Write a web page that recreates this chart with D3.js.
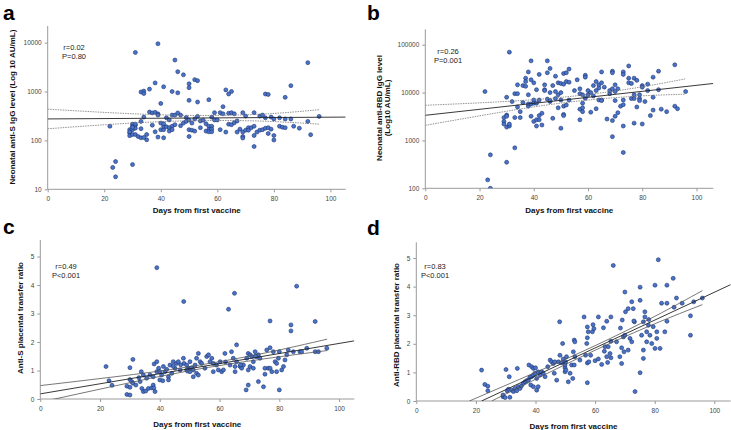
<!DOCTYPE html>
<html>
<head>
<meta charset="utf-8">
<script src="https://cdn.jsdelivr.net/npm/d3@7"></script>
<style>
  body { margin: 0; background: #fff; }
  svg { display: block; font-family: "Liberation Sans", Arial, sans-serif; }
  .axis path, .axis line { stroke: #9a9a9a; stroke-width: 1; }
  .axis text { fill: #444; font-size: 6.5px; }
  .ttl { font-weight: bold; font-size: 8px; fill: #111; }
  .lett { font-weight: bold; font-size: 21px; fill: #000; }
  .ann { font-size: 7.5px; fill: #222; }
  .dot { fill: #4a74c9; stroke: #1c3370; stroke-width: 0.6; }
</style>
</head>
<body onload="init()">
<svg width="731" height="430"></svg>
<script>
// ticks
var dayTicks = [0, 20, 40, 60, 80, 100];
var logTicksA = [10, 100, 1000, 10000];
var logTicksB = [100, 1000, 10000, 100000];
var ratioTicks = [0, 1, 2, 3, 4, 5];

// panel a: neonatal anti-S IgG (day, AU/mL)
var ptsA = [[39,9500],[31,6300],[45,4400],[46,2550],[48,2200],[52,1750],[53,1670],[50,1440],[50,1200],[38,1500],
  [41,1250],[36,1120],[33,980],[34,1020],[34,910],[44,1000],[46,940],[50,660],[53,610],[40,570],[57,680],[22,195],
  [24,37],[23,28],[24,18],[30,32],[36,380],[37,365],[38,375],[39,350],[34,300],[33,245],[30,215],[30,195],[31,205],
  [31,215],[29,166],[30,166],[31,178],[29,141],[29,125],[30,132],[31,132],[32,120],[33,113],[35,103],[33,174],[35,132],
  [37,205],[39,117],[40,166],[41,166],[41,195],[42,190],[40,226],[41,219],[41,113],[43,182],[43,155],[44,195],[44,166],
  [42,290],[43,262],[44,330],[45,330],[46,365],[47,200],[48,226],[49,295],[49,245],[50,262],[51,226],[50,166],[51,162],
  [50,120],[52,275],[53,310],[54,250],[52,155],[54,182],[56,219],[57,195],[57,166],[56,155],[29,150],[30,185],[34,115],
  [38,150],[39,330],[47,330],[45,210],[55,260],
  [92,3900],[86,1320],[84,760],[77,890],[78,870],[63,1080],[64,890],[65,1000],[62,490],[59,370],[61,370],[62,350],
  [64,360],[65,370],[66,350],[69,370],[70,315],[73,370],[75,315],[76,330],[77,290],[79,300],[80,275],[82,290],[84,275],
  [86,275],[92,245],[96,310],[93,131],[58,300],[59,262],[60,262],[58,195],[58,170],[57,150],[58,150],[61,166],[63,148],
  [64,215],[65,210],[66,230],[67,250],[67,148],[68,170],[69,148],[70,162],[69,120],[69,112],[71,182],[71,162],[72,182],
  [73,195],[73,126],[73,75],[74,148],[75,162],[76,166],[77,178],[78,182],[78,138],[79,170],[80,126],[80,102],[82,195],
  [83,186],[84,182],[87,195],[89,178]];
var fitA = [[0,275],[105.4,300]];
var ciUpA = [[0,436],[25,362],[50,325],[75,343],[96,425]];
var ciLoA = [[0,173],[25,218],[50,252],[75,249],[96,215]];

// panel b: neonatal anti-RBD IgG
var ptsB = [[22,10500],[23,150],[24,500],[24,100],[30,8000],[29,3000],[29,2500],[29,2200],[30,3400],[30,3200],[30,1900],
  [31,2000],[31,2200],[30,350],[31,70000],[32,6500],[33,9500],[33,3000],[33,700],[34,9500],[34,5000],[34,14500],[35,4000],
  [35,3000],[36,6200],[36,14000],[37,20000],[37,17000],[37,13500],[38,27000],[38,9000],[38,5200],[38,5800],[39,46000],
  [39,18500],[39,3200],[39,5800],[40,7000],[40,6000],[40,16000],[40,2500],[41,11500],[41,6000],[41,2700],[41,2000],
  [42,24000],[42,7000],[42,3300],[42,2700],[43,3700],[43,2100],[44,11500],[44,14500],[44,11000],[45,46000],[45,26000],
  [45,7300],[46,32000],[46,10000],[46,6500],[46,6800],[47,2900],[47,14000],[48,22000],[48,10500],[48,7500],[49,16000],
  [49,4800],[49,9000],[50,15500],[50,10000],[50,7000],[50,1800],[51,25000],[51,15000],[51,5200],[51,3500],[51,3300],
  [52,17000],[52,26000],[52,5500],[53,31000],[53,16500],[53,7000],[55,11000],[56,18500],[57,12000],[57,9500],[57,4500],
  [57,2700],[58,9000],[58,6000],[58,4800],[58,4000],[59,23000],[59,21000],[59,7600],[60,11000],[60,9000],[61,10000],
  [61,3900],[62,8500],[62,14000],[63,17000],[63,11000],[63,4600],[64,14500],[64,12500],[64,7000],[65,27000],[65,16000],
  [65,7000],[65,6800],[66,13000],[67,2800],[68,9500],[68,11000],[69,28000],[69,26000],[69,12000],[69,2600],[69,1200],
  [70,14500],[70,10500],[70,6800],[70,3200],[71,12000],[71,3800],[72,5200],[73,27000],[73,24000],[73,7000],[73,5600],
  [73,2000],[73,560],[75,36000],[75,20000],[75,16000],[76,15500],[76,7500],[77,20000],[77,9000],[77,7500],[77,2300],
  [78,18000],[78,5000],[79,9000],[79,7500],[79,6800],[80,14000],[80,13000],[80,2200],[81,6500],[82,15000],[82,11000],
  [83,3300],[84,21000],[84,8000],[84,4300],[86,28000],[86,11500],[87,4500],[89,4000],[92,38000],[92,5200],[93,4600],
  [96,10500]];
var fitB = [[0,3350],[106.2,15500]];
var ciUpB = [[0,5430],[25,6310],[50,7940],[75,11900],[96,19400]];
var ciLoB = [[0,2070],[25,3650],[50,6030],[75,8220],[96,9270]];

// panel c: anti-S placental transfer ratio
var ptsC = [[22,1.14],[23,0.64],[24,0.48],[29,0.45],[29,0.16],[30,0.14],[30,0.41],[30,1.10],[31,1.39],[30,0.68],
  [30.6,0.61],[31,0.55],[32,0.49],[33,0.75],[33.4,0.61],[34,0.37],[34.5,0.26],[35.3,0.28],[36.2,0.37],[37.3,0.39],
  [33.8,0.96],[34.5,0.84],[35.6,0.73],[36.7,0.84],[37.8,0.78],[38.1,1.23],[38.4,0.26],[39,0.96],[39,1.31],[39,4.61],
  [37.8,0.49],[38,0.39],[39.6,1.08],[40,0.96],[40.6,0.84],[41.2,1.14],[41.7,0.96],[42.3,1.04],[42.9,0.78],[43.4,1.19],
  [44,0.9],[40,0.67],[41,0.64],[42.9,0.67],[44.5,1.31],[45.6,1.25],[46.2,1.31],[45.1,1.08],[46.8,1.02],[48,3.42],
  [47.9,1.43],[48.1,1.25],[49,1.19],[49.6,1.08],[50.1,1.05],[50.7,1.1],[51.2,1.02],[49,1.02],[49.3,0.98],[50.1,0.96],
  [51.2,0.78],[50.1,1.31],[51.8,1.19],[52.3,1.43],[52.9,1.6],[53.5,1.31],[52.3,0.9],[52.9,0.84],[55.1,1.08],[55.7,1.49],
  [56.3,1.55],[56.8,1.31],[57.4,1.43],[57.9,1.25],[57.9,0.96],[59,1.19],[59.6,1.02],[60.2,1.31],[60.7,0.96],[61.3,1.02],
  [61.8,1.6],[63,3.15],[63.5,1.19],[64,1.66],[64.6,1.43],[65,3.71],[65.2,0.96],[65.7,1.9],[65.2,1.14],[65.7,1.31],
  [66.9,1.14],[67.4,1.08],[68,1.19],[68.9,0.32],[69.6,0.49],[69.1,1.43],[69.6,1.6],[70.2,1.55],[70.8,1.49],[71.3,1.31],
  [71.9,1.66],[72.4,1.49],[73,1.55],[73.5,1.43],[69.6,1.02],[70.2,1.14],[71.3,1.08],[73,0.61],[74.7,0.43],[75.2,0.87],
  [75.2,1.08],[75.8,1.72],[76.3,1.08],[76.9,1.08],[76.9,2.74],[77.5,0.96],[76.9,1.8],[78,1.66],[78.6,1.31],[79.1,1.25],
  [79.7,1.43],[80,1.66],[80,0.32],[79.1,0.96],[80.8,1.02],[81.4,1.14],[81.9,1.37],[82.5,1.55],[83,1.72],[83.9,2.6],
  [83.9,2.39],[84.7,1.66],[85.8,3.96],[86.9,1.66],[87.5,1.66],[89.2,1.78],[92,2.72],[92,1.66],[93.1,1.66],[95.9,1.78],
  [44.5,1.15],[47,1.2],[54,1.25],[62,1.3],[67,1.2],[72,1.5]];
var fitC = [[0,0.18],[105.1,2.04]];
var ciUpC = [[0,0.47],[25,0.78],[50,1.135],[75,1.61],[96,2.1]];
var ciLoC = [[0,-0.11],[25,0.46],[50,0.995],[75,1.41],[96,1.70]];

// panel d: anti-RBD placental transfer ratio
var ptsD = [[21.9,1.08],[23,0.58],[24,0.52],[24,0.36],[29.1,0.15],[29.1,0.21],[29.8,0.12],[30.1,1.1],[30.5,0.35],
  [30.9,0.41],[31.4,0.13],[32,0.38],[31.2,0.85],[32.6,0.33],[33.1,0.44],[33.7,0.36],[34.2,0.5],[34.8,0.44],[35.3,0.53],
  [35.9,0.62],[36.5,0.67],[37,0.71],[33.9,1.14],[37.6,0.73],[38.1,0.83],[38.7,0.85],[39.3,0.91],[39.8,0.97],[40.4,0.79],
  [40.9,1.02],[41.5,0.91],[42.1,1.02],[42.6,0.97],[37.8,1.26],[38.7,1.2],[39.3,1.14],[40,1.16],[38.4,0.56],[39.3,0.5],
  [40.4,0.38],[40.9,0.5],[43.2,0.85],[44.1,1.2],[44.9,1.43],[45.4,1.37],[46,1.31],[46.3,0.97],[46.5,1.37],[47.1,0.73],
  [47.7,1.37],[48.1,2.77],[48.2,1.6],[48.8,1.34],[49.3,1.47],[49.1,2.01],[49.9,1.16],[49.9,1.02],[50.2,1.08],[49.9,1.26],
  [50.1,1.37],[50.4,1.55],[51,0.67],[51.6,0.97],[52.1,1.26],[52.5,0.79],[52.7,1.72],[53,1.26],[53,2.13],[53.2,2.07],
  [53.2,1.55],[54.9,1.43],[56.3,2.94],[56.8,1.6],[57.4,1.33],[57.2,2.01],[57.4,2.21],[57.7,2.42],[57.4,2.59],[57.9,1.37],
  [58.5,1.6],[59.1,2.42],[59.3,2.67],[59.6,2.53],[57.4,0.64],[60,1.41],[61.1,1.47],[61.1,2.94],[62.2,1.28],[62.8,2.56],
  [63.1,1.74],[63.3,1.9],[63.9,2.79],[63.9,1.55],[64.4,1.9],[64.2,1.35],[65,1.66],[65.3,2.94],[66.1,4.74],[65.3,2.09],
  [65.3,1.51],[67.2,2.07],[68.3,1.55],[68.9,1.31],[68.9,1.86],[69.1,2.83],[69.5,2.24],[69.7,1.72],[70,3.81],[70.2,3.12],
  [70,2.3],[71.1,3.23],[71.1,1.78],[72.3,3.47],[71.7,2.19],[72.3,2.07],[72.8,3.23],[73.2,2.77],[73.4,0.33],[75.1,3.52],
  [75.1,3.98],[75.1,0.99],[75.6,2.3],[76.2,2.77],[76.2,1.78],[76.2,1.49],[76.7,2.94],[76.7,3.12],[77.3,2.07],[77.3,2.42],
  [77.9,2.65],[78.4,2.3],[79,2.01],[80.1,4.05],[80.1,1.84],[80.7,2.42],[80.7,2.19],[81.2,4.94],[81.8,1.84],[82.3,3.42],
  [83.4,2.42],[84.1,4.05],[84.1,3.42],[84.1,2.79],[86.2,4.29],[86.5,3.28],[87.3,3.6],[89.2,3.42],[92,2.98],[92,2.3],
  [93.1,3.47],[96,3.6],[73,2.8],[78,2.85],[79.5,2.6],[68.5,2.55]];
var fitD = [[21.9,0],[105.5,4.07]];
var ciUpD = [[17.8,0],[40,1.0],[60,1.935],[80,2.96],[96,3.86]];
var ciLoD = [[25.3,0],[40,0.76],[60,1.775],[80,2.70],[96,3.37]];

function drawPanel(svg, p) {
  var g = svg.append("g");
  var x = d3.scaleLinear().domain(p.xDom).range([p.left, p.right]);
  var y = (p.log ? d3.scaleLog() : d3.scaleLinear()).domain(p.yDom).range([p.bottom, p.top]);

  var clipId = "clip" + p.letter;
  svg.append("clipPath").attr("id", clipId).append("rect")
    .attr("x", p.left).attr("y", p.top).attr("width", p.right - p.left).attr("height", p.bottom - p.top);

  // axes
  var xa = g.append("g").attr("class", "axis").attr("transform", "translate(0," + p.bottom + ")")
    .call(d3.axisBottom(x).tickValues(dayTicks).tickSize(3).tickSizeOuter(0).tickPadding(4).tickFormat(d3.format("d")));
  var ya = g.append("g").attr("class", "axis").attr("transform", "translate(" + p.left + ",0)")
    .call(d3.axisLeft(y).tickValues(p.yTicks).tickSize(3).tickSizeOuter(0).tickPadding(3).tickFormat(d3.format("d")));
  xa.select(".domain").attr("d", "M" + p.left + ",0H" + p.right);
  ya.select(".domain").attr("d", "M0," + p.top + "V" + p.bottom);

  var pg = g.append("g").attr("clip-path", "url(#" + clipId + ")");
  var line = d3.line().x(function(d) { return x(d[0]); }).y(function(d) { return y(d[1]); });
  var curve = d3.line().curve(d3.curveNatural).x(function(d) { return x(d[0]); }).y(function(d) { return y(d[1]); });

  pg.selectAll("circle").data(p.pts).enter().append("circle")
    .attr("class", "dot").attr("r", 2)
    .attr("cx", function(d) { return x(d[0]); })
    .attr("cy", function(d) { return y(d[1]); });

  [p.ciUp, p.ciLo].forEach(function(c) {
    pg.append("path").attr("d", curve(c)).attr("fill", "none")
      .attr("stroke", p.ciColor).attr("stroke-width", 0.8)
      .attr("stroke-dasharray", p.ciDash);
  });
  pg.append("path").attr("d", line(p.fit)).attr("fill", "none")
    .attr("stroke", "#222").attr("stroke-width", 0.9);

  // titles
  g.append("text").attr("class", "ttl").attr("text-anchor", "middle")
    .attr("x", (p.left + p.right) / 2 + p.xtDx).attr("y", p.xtY).text("Days from first vaccine");
  p.yTitle.forEach(function(t, i) {
    g.append("text").attr("class", "ttl").attr("text-anchor", "middle")
      .attr("transform", "translate(" + (p.ytX + i * 8) + "," + p.ytY + ") rotate(-90)").text(t);
  });
  g.append("text").attr("class", "lett").attr("x", p.lx).attr("y", p.ly).text(p.letter);
  p.ann.forEach(function(t, i) {
    g.append("text").attr("class", "ann").attr("text-anchor", "middle")
      .attr("x", p.ax).attr("y", p.ay + i * 8.5).text(t);
  });
}

function init() {
  var svg = d3.select("svg");
  drawPanel(svg, {letter: "a", left: 47.7, right: 345.7, top: 26, bottom: 189.3, xDom: [0, 105.4], yDom: [10, 21900],
    log: true, yTicks: logTicksA, pts: ptsA, fit: fitA, ciUp: ciUpA, ciLo: ciLoA, ciColor: "#777", ciDash: "1.5,1",
    xtY: 213, xtDx: 0, yTitle: ["Neonatal anti-S IgG level (Log 10 AU/mL)"], ytX: 15, ytY: 107,
    lx: 3, ly: 20, ann: ["r=0.02", "P=0.80"], ax: 74, ay: 50});
  drawPanel(svg, {letter: "b", left: 425.3, right: 713.3, top: 29.3, bottom: 188.3, xDom: [0, 106.2], yDom: [100, 210000],
    log: true, yTicks: logTicksB, pts: ptsB, fit: fitB, ciUp: ciUpB, ciLo: ciLoB, ciColor: "#777", ciDash: "1.5,1",
    xtY: 213, xtDx: 0, yTitle: ["Neonatal anti-RBD IgG level", "(Log10 AU/mL)"], ytX: 382, ytY: 108,
    lx: 367, ly: 20, ann: ["r=0.26", "P=0.001"], ax: 448, ay: 54});
  drawPanel(svg, {letter: "c", left: 40.3, right: 354.3, top: 240, bottom: 399, xDom: [0, 105.1], yDom: [0, 5.58],
    log: false, yTicks: ratioTicks, pts: ptsC, fit: fitC, ciUp: ciUpC, ciLo: ciLoC, ciColor: "#555", ciDash: null,
    xtY: 427, xtDx: 0, yTitle: ["Anti-S placental transfer ratio"], ytX: 23, ytY: 318,
    lx: 3, ly: 234, ann: ["r=0.49", "P<0.001"], ax: 66, ay: 269});
  drawPanel(svg, {letter: "d", left: 416.3, right: 730.7, top: 242.3, bottom: 401, xDom: [0, 105.5], yDom: [0, 5.55],
    log: false, yTicks: ratioTicks, pts: ptsD, fit: fitD, ciUp: ciUpD, ciLo: ciLoD, ciColor: "#555", ciDash: null,
    xtY: 429, xtDx: 0, yTitle: ["Anti-RBD placental transfer ratio"], ytX: 399, ytY: 325,
    lx: 367, ly: 235, ann: ["r=0.83", "P<0.001"], ax: 435, ay: 269});
}
</script>
</body>
</html>
